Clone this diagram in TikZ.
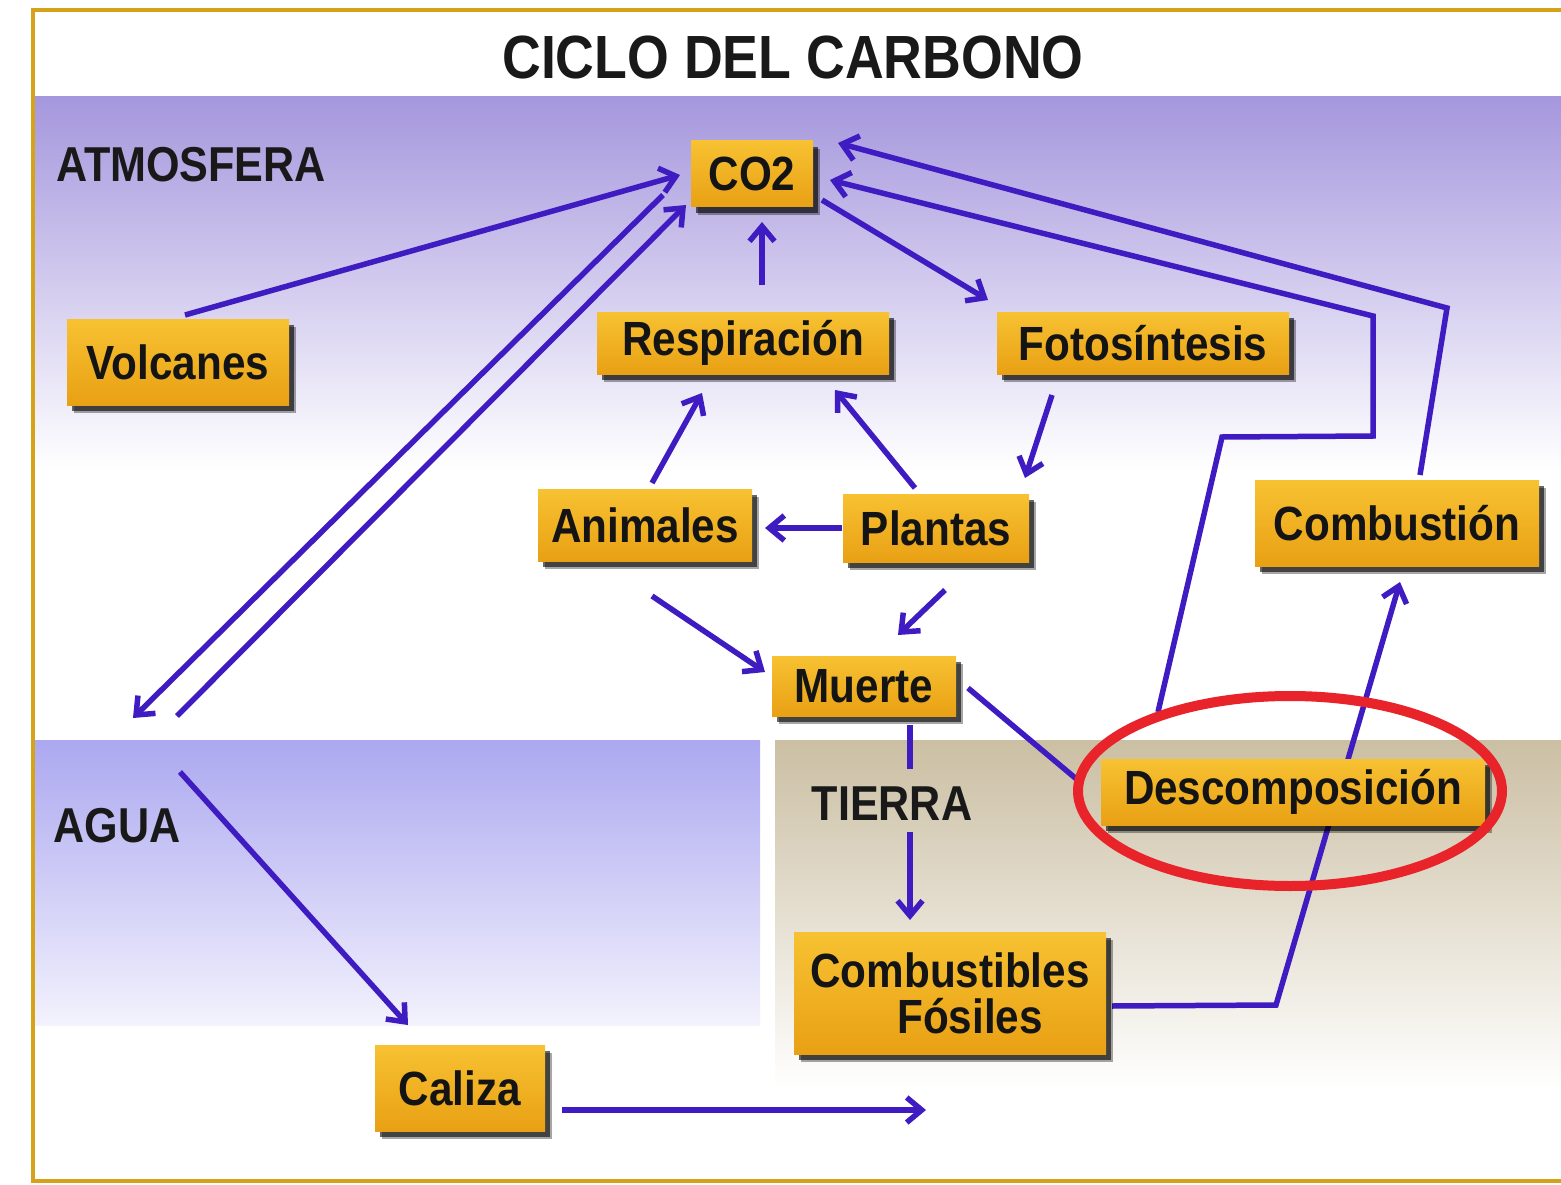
\documentclass[tikz,border=0pt]{standalone}
\usepackage{fontspec}
\setmainfont{Liberation Sans}[FakeStretch=0.88]
\usetikzlibrary{arrows.meta,calc,shadows}
\definecolor{lineC}{HTML}{3F1BC2}
\definecolor{atmTop}{HTML}{A597DD}
\definecolor{waterTop}{HTML}{ACA8F0}
\definecolor{waterBot}{HTML}{F3F2FD}
\definecolor{earthTop}{HTML}{CBBFA3}
\definecolor{frameC}{HTML}{D6A21A}
\definecolor{ringC}{HTML}{E8232A}
\definecolor{boxA}{HTML}{F7C232}
\definecolor{boxB}{HTML}{E9A014}
\pgfdeclarelayer{bg}
\pgfdeclarelayer{conn}
\pgfsetlayers{bg,conn,main}
\tikzset{
  box/.style={top color=boxA, bottom color=boxB, inner sep=0pt, align=center,
    font=\fontsize{48}{50}\selectfont\bfseries, text=black!92,
    general shadow={shadow xshift=7pt, shadow yshift=-8pt, opacity=0.35, fill=black},
    general shadow={shadow xshift=5pt, shadow yshift=-6pt, opacity=0.6, fill=black}},
  zone/.style={font=\fontsize{49}{50}\selectfont\bfseries, text=black!90, inner sep=0pt},
  conn/.style={draw=lineC, line width=5.5pt},
  arr/.style={conn, -{Straight Barb[length=15pt,width=25pt]}}
}
\begin{document}
\begin{tikzpicture}[x=1pt,y=-1pt]
\useasboundingbox (0,0) rectangle (1561,1185);
\begin{pgfonlayer}{bg}
\fill[white] (0,0) rectangle (1561,1185);
\shade[top color=atmTop, bottom color=white] (34,97) rectangle (1561,470);
\shade[top color=waterTop, bottom color=waterBot] (35,740) rectangle (760,1025);
\shade[top color=earthTop, bottom color=white] (775,740) rectangle (1561,1090);
\draw[frameC, line width=4pt] (1561,10) -- (33,10) -- (33,1181) -- (1561,1181);
\end{pgfonlayer}

\node[font=\fontsize{61}{64}\selectfont\bfseries, text=black!90] (title) at (793,58) {CICLO DEL CARBONO};
\node[zone] (atm) at (191,165) {ATMOSFERA};
\node[zone] (agua) at (117,826) {AGUA};
\node[zone] (tierra) at (892,804) {TIERRA};

\node[box, minimum width=122, minimum height=66] (co2) at (752,174) {CO2};
\node[box, minimum width=222, minimum height=86] (volc) at (178,362) {Volcanes};
\node[box, minimum width=292, minimum height=62] (resp) at (743,343) {Respiración};
\node[box, minimum width=292, minimum height=62] (foto) at (1143,343) {Fotosíntesis};
\node[box, minimum width=214, minimum height=72] (anim) at (645,525) {Animales};
\node[box, minimum width=186, minimum height=68] (plant) at (936,528) {Plantas};
\node[box, minimum width=284, minimum height=86] (combn) at (1397,523) {Combustión};
\node[box, minimum width=184, minimum height=60] (muer) at (864,686) {Muerte};
\node[box, minimum width=384, minimum height=66] (desc) at (1293,792) {Descomposición};
\node[box, minimum width=312, minimum height=122] (fosil) at (950,993) {Combustibles\\[-4pt]\hspace*{40pt}Fósiles};
\node[box, minimum width=170, minimum height=86] (cal) at (460,1088) {Caliza};
\coordinate (calend) at (926,1110);

\begin{pgfonlayer}{conn}
\draw[arr] ($(volc)+(7,-47)$) -- ($(co2)+(-72,1)$);
\draw[arr] ($(co2)+(-89,21)$) -- ($(agua)+(16,-108)$);
\draw[arr] ($(agua)+(60,-110)$) -- ($(co2)+(-66,31)$);
\draw[arr] ($(resp)+(19,-58)$) -- ($(co2)+(10,48)$);
\draw[arr] ($(co2)+(70,26)$) -- ($(foto)+(-155,-43)$);
\draw[arr] ($(foto)+(-91,52)$) -- ($(plant)+(89,-50)$);
\draw[arr] ($(plant)+(-21,-40)$) -- ($(resp)+(92,47)$);
\draw[arr] ($(anim)+(7,-42)$) -- ($(resp)+(-41,50)$);
\draw[arr] ($(plant)+(-94,0)$) -- ($(anim)+(120,3)$);
\draw[arr] ($(plant)+(9,62)$) -- ($(muer)+(34,-51)$);
\draw[arr] ($(anim)+(7,71)$) -- ($(muer)+(-99,-14)$);
\draw[conn] ($(muer)+(104,2)$) -- ($(desc)+(-213,-10)$);
\draw[conn] ($(muer)+(46,39)$) -- ($(tierra)+(18,-35)$);
\draw[arr] ($(tierra)+(18,28)$) -- ($(fosil)+(-40,-73)$);
\draw[arr, line join=miter] ($(desc)+(-135,-80)$) -- (1222,437) -- (1373,436) -- (1373,316) -- ($(co2)+(78,6)$);
\draw[arr, line join=miter] ($(combn)+(23,-48)$) -- (1447,308) -- ($(co2)+(86,-31)$);
\draw[arr, line join=miter] ($(fosil)+(162,13)$) -- (1276,1005) -- ($(combn)+(3,59)$);
\draw[arr] ($(agua)+(63,-54)$) -- ($(cal)+(-52,-63)$);
\draw[arr] ($(cal)+(102,22)$) -- (calend);
\end{pgfonlayer}

\draw[ringC, line width=10pt] (1290,791) ellipse [x radius=212, y radius=95];
\end{tikzpicture}
\end{document}
